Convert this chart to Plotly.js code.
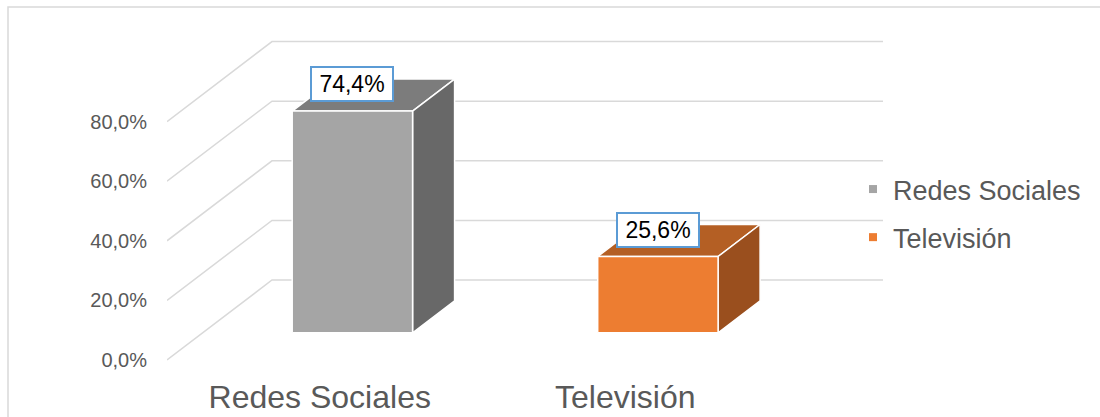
<!DOCTYPE html>
<html>
<head>
<meta charset="utf-8">
<script src="https://cdn.plot.ly/plotly-3.0.1.min.js"></script>
<style>html,body{margin:0;padding:0;background:#fff}#chart{width:1100px;height:417px}</style>
</head>
<body>
<div id="chart"></div>
<script>
// ---- data ----
const categories = ['Redes Sociales', 'Televisión'];
const values = [74.4, 25.6];
const valueLabels = ['74,4%', '25,6%'];
const yTickVals = [0, 20, 40, 60, 80];
const yTickText = ['0,0%', '20,0%', '40,0%', '60,0%', '80,0%'];

// ---- styles ----
const frontColors = ['#A5A5A5', '#ED7D31'];
const topColors = ['#7C7C7C', '#B45F24'];
const sideColors = ['#686868', '#9A4F1E'];
const gridColor = '#D9D9D9';
const textColor = '#595959';
const FONT = 'Liberation Sans, Arial, sans-serif';

// ---- 3D oblique geometry (layout constants) ----
const W = 1100, H = 417;
const mL = 167, mR = 215, mT = 20, mB = 42;
const pxPerCat = 305.5;          // px per category unit (x axis)
const pxPerPct = 2.98;           // px per % (y axis, front plane)
const depthPx = {dx: 105, dy: 80};
const DX = depthPx.dx / pxPerCat;  // x units per unit depth
const DV = depthPx.dy / pxPerPct;  // y units per unit depth
const dFront = 0.34, dBack = 0.74; // depth of bar faces
const barShift = -0.01;            // small category offset of bars
const halfW = 0.197;               // half bar width in category units
const zeroPx = 360 - mT;           // pixel of 0% from plot top
const plotH = H - mT - mB, plotW = W - mL - mR;
const yMin = -(plotH - zeroPx) / pxPerPct;
const yMax = zeroPx / pxPerPct;
const xMax = plotW / pxPerCat;
const nCat = categories.length;

function P(x, d, v) { return [x + d * DX, v + d * DV]; }
function poly(pts) {
  const xs = pts.map(p => p[0]), ys = pts.map(p => p[1]);
  xs.push(xs[0]); ys.push(ys[0]);
  return {x: xs, y: ys};
}

const traces = [];
// gridlines: left wall diagonal + back wall horizontal
yTickVals.forEach(v => {
  const a = P(0, 0, v), b = P(0, 1, v), c = P(nCat, 1, v);
  traces.push({
    type: 'scatter', mode: 'lines', x: [a[0], b[0], c[0]], y: [a[1], b[1], c[1]],
    line: {color: gridColor, width: 1.5}, hoverinfo: 'skip', showlegend: false
  });
});

// bars
values.forEach((v, i) => {
  const xc = i + 0.5 + barShift;
  const xl = xc - halfW, xr = xc + halfW;
  const top = poly([P(xl, dFront, v), P(xr, dFront, v), P(xr, dBack, v), P(xl, dBack, v)]);
  const side = poly([P(xr, dFront, 0), P(xr, dBack, 0), P(xr, dBack, v), P(xr, dFront, v)]);
  const front = poly([P(xl, dFront, 0), P(xr, dFront, 0), P(xr, dFront, v), P(xl, dFront, v)]);
  [[top, topColors[i]], [side, sideColors[i]], [front, frontColors[i]]].forEach(([g, col]) => {
    traces.push({
      type: 'scatter', mode: 'lines', x: g.x, y: g.y, fill: 'toself', fillcolor: col,
      line: {color: '#FFFFFF', width: 1.5}, hoverinfo: 'skip', showlegend: false
    });
  });
});

// legend entries
categories.forEach((c, i) => {
  traces.push({
    type: 'scatter', mode: 'markers', x: [null], y: [null], name: c,
    legendgroup: 'g' + i,
    marker: {symbol: 'square', size: 8, color: frontColors[i]}, hoverinfo: 'skip'
  });
});

// data labels
const annotations = values.map((v, i) => {
  const p = P(i + 0.5 + barShift, dFront, v);
  return {
    x: p[0], y: p[1], xref: 'x', yref: 'y', yshift: 27,
    text: valueLabels[i], showarrow: false,
    font: {family: FONT, size: 23, color: '#000000'},
    bgcolor: '#FFFFFF', bordercolor: '#5B9BD5', borderwidth: 2, borderpad: 1,
    width: 78, height: 30
  };
});

const layout = {
  width: W, height: H,
  margin: {l: mL, r: mR, t: mT, b: mB},
  paper_bgcolor: '#FFFFFF', plot_bgcolor: 'rgba(0,0,0,0)',
  font: {family: FONT, color: textColor},
  showlegend: true,
  legend: {
    x: (853 - mL) / plotW, xanchor: 'left',
    y: (H - mB - 165) / plotH, yanchor: 'top',
    font: {family: FONT, size: 27, color: textColor},
    tracegroupgap: 10, bgcolor: 'rgba(0,0,0,0)', borderwidth: 0
  },
  xaxis: {
    range: [0, xMax], showgrid: false, zeroline: false, showline: false,
    tickmode: 'array', tickvals: categories.map((c, i) => i + 0.5), ticktext: categories,
    tickfont: {family: FONT, size: 32, color: textColor}, ticks: '', fixedrange: true
  },
  yaxis: {
    range: [yMin, yMax], showgrid: false, zeroline: false, showline: false,
    tickmode: 'array', tickvals: yTickVals, ticktext: yTickText,
    tickfont: {family: FONT, size: 20, color: textColor}, ticks: '',
    ticklabelstandoff: 19, fixedrange: true
  },
  annotations: annotations,
  shapes: [{
    type: 'rect', xref: 'paper', yref: 'paper', layer: 'below',
    x0: (8 - mL) / plotW, x1: (W + 5 - mL) / plotW,
    y0: (H - mB - (H + 5)) / plotH, y1: (H - mB - 7) / plotH,
    line: {color: gridColor, width: 1.5}, fillcolor: 'rgba(0,0,0,0)'
  }],
  hovermode: false
};

Plotly.newPlot('chart', traces, layout, {displayModeBar: false, staticPlot: true});
</script>
</body>
</html>
